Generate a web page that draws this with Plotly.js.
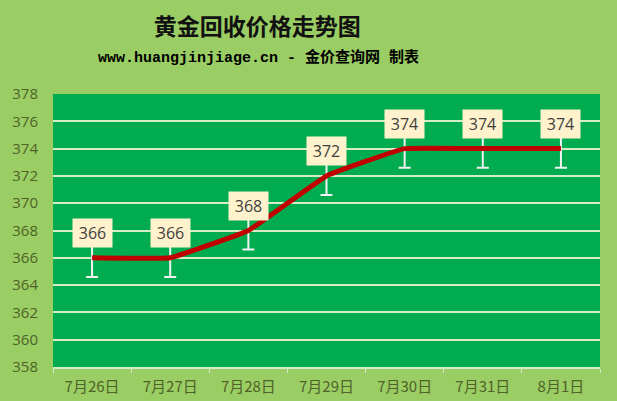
<!DOCTYPE html>
<html>
<head>
<meta charset="utf-8">
<script src="https://cdn.plot.ly/plotly-3.0.1.min.js"></script>
<style>body{margin:0;background:#9ACD63;} #chart{width:617px;height:401px;}</style>
</head>
<body>
<div id="chart"></div>
<script>
// 金价数据
var dates = ['7月26日','7月27日','7月28日','7月29日','7月30日','7月31日','8月1日'];
var prices = [366, 366, 368, 372, 374, 374, 374];
var errs = [1.4, 1.4, 1.4, 1.4, 1.4, 1.4, 1.4];
var yTicks = [358, 360, 362, 364, 366, 368, 370, 372, 374, 376, 378];

var line = {
	x: dates,
	y: prices,
	type: 'scatter',
	mode: 'lines',
	line: {color: '#C00000', width: 5, shape: 'spline', smoothing: 0.25},
	error_y: {type: 'data', array: errs, symmetric: true, color: '#F2F2F2', thickness: 2, width: 6},
	hoverinfo: 'x+y'
};

var notes = [];
for (var i = 0; i < dates.length; i++) {
	notes.push({
		x: dates[i], y: prices[i], xref: 'x', yref: 'y',
		text: String(prices[i]), showarrow: false, yshift: 25,
		bgcolor: '#FFF2CC', borderpad: 4, width: 31, height: 20,
		font: {family: 'Open Sans, Liberation Sans, sans-serif', size: 16, color: '#404040'}
	});
}
notes.push({
	xref: 'paper', yref: 'paper', x: 0.376, y: 1, yshift: 48, showarrow: false,
	text: '<b>www.huangjinjiage.cn - 金价查询网 制表</b>',
	font: {family: 'Liberation Mono, Noto Sans CJK SC, monospace', size: 15, color: '#000000'}
});

var layout = {
	width: 617, height: 401,
	paper_bgcolor: '#9ACD63',
	plot_bgcolor: '#00AC4F',
	margin: {l: 53, r: 17, t: 94, b: 34},
	showlegend: false,
	title: {
		text: '<b>黄金回收价格走势图</b>',
		x: 0.417, y: 0.953, xanchor: 'center',
		font: {family: 'Noto Sans CJK SC, sans-serif', size: 23, color: '#111111'}
	},
	xaxis: {
		type: 'category', range: [-0.5, 6.5],
		tickson: 'boundaries', ticks: 'outside', ticklen: 4, tickcolor: '#D5EDC8',
		showline: true, linecolor: '#D5EDC8', linewidth: 2,
		showgrid: false, ticklabelstandoff: 5,
		tickfont: {family: 'Noto Sans CJK SC, sans-serif', size: 15, color: '#4F6228'}
	},
	yaxis: {
		range: [358, 378], tickvals: yTicks, ticks: '',
		showgrid: true, gridcolor: '#D5EDC8', gridwidth: 2,
		zeroline: false, showline: false, ticklabelstandoff: 14,
		tickfont: {family: 'Open Sans, Liberation Sans, sans-serif', size: 15, color: '#4F6228'}
	},
	annotations: notes
};

Plotly.newPlot('chart', [line], layout, {displayModeBar: false});
</script>
</body>
</html>
